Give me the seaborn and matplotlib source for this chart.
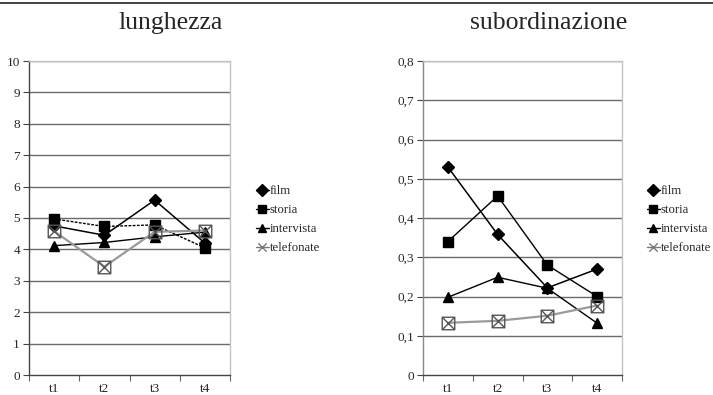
import numpy as np
import pandas as pd
import matplotlib
matplotlib.use("Agg")
import matplotlib.pyplot as plt
from matplotlib.path import Path
from matplotlib.lines import Line2D
import seaborn as sns

sns.set_theme(style="white")
plt.rcParams["font.family"] = ["Liberation Serif", "DejaVu Serif"]

times = ["t1", "t2", "t3", "t4"]
series_names = ["film", "storia", "intervista", "telefonate"]

# lunghezza
lung_film = [4.75, 4.45, 5.57, 4.2]
lung_storia = [4.97, 4.73, 4.78, 4.05]
lung_intervista = [4.12, 4.22, 4.4, 4.55]
lung_telefonate = [4.58, 3.45, 4.56, 4.6]

# subordinazione
sub_film = [0.53, 0.358, 0.222, 0.27]
sub_storia = [0.34, 0.456, 0.28, 0.2]
sub_intervista = [0.198, 0.249, 0.221, 0.132]
sub_telefonate = [0.133, 0.138, 0.151, 0.177]

lung_ticks = list(range(0, 11))
lung_ticklabels = [str(v) for v in lung_ticks]
sub_ticks = [0, 0.1, 0.2, 0.3, 0.4, 0.5, 0.6, 0.7, 0.8]
sub_ticklabels = ["0", "0,1", "0,2", "0,3", "0,4", "0,5", "0,6", "0,7", "0,8"]

# crossed-box marker used for "telefonate"
xbox = Path(
    [(-1, -1), (1, -1), (1, 1), (-1, 1), (-1, -1),
     (-1, -1), (1, 1), (-1, 1), (1, -1)],
    [Path.MOVETO, Path.LINETO, Path.LINETO, Path.LINETO, Path.CLOSEPOLY,
     Path.MOVETO, Path.LINETO, Path.MOVETO, Path.LINETO],
)
xmark = Path(
    [(-1, -1), (1, 1), (-1, 1), (1, -1)],
    [Path.MOVETO, Path.LINETO, Path.MOVETO, Path.LINETO],
)

styles = {
    "film": dict(color="black", marker="D", markersize=6, lw=1.1, ls="-",
                 mfc="black", mec="black"),
    "storia": dict(color="black", marker="s", markersize=7.5, lw=1.0, ls="-",
                   mfc="black", mec="black"),
    "intervista": dict(color="black", marker="^", markersize=7.5, lw=1.0, ls="-",
                       mfc="black", mec="black"),
    "telefonate": dict(color="#9a9a9a", marker=xbox, markersize=9, lw=1.6, ls="-",
                       mfc="none", mec="#555555"),
}

fig = plt.figure(figsize=(7.13, 3.95), dpi=100)
fig.patch.set_facecolor("white")

ax1 = fig.add_axes([29 / 713, 20 / 395, 201 / 713, 314 / 395])
ax2 = fig.add_axes([423 / 713, 20 / 395, 199 / 713, 314 / 395])


def draw(ax, data, ticks, ticklabels, ymax, storia_ls, left_color):
    df = pd.DataFrame({"t": np.arange(len(times))})
    for name, vals in zip(series_names, data):
        st = dict(styles[name])
        ls = storia_ls if name == "storia" else st["ls"]
        sns.lineplot(x=df["t"], y=vals, ax=ax, color=st["color"], lw=st["lw"],
                     linestyle=ls, marker=st["marker"], markersize=st["markersize"],
                     markerfacecolor=st["mfc"], markeredgecolor=st["mec"],
                     markeredgewidth=1.0, label=name, legend=False)
    ax.set_xlim(-0.5, len(times) - 0.5)
    ax.set_ylim(0, ymax)
    ax.set_xticks(np.arange(len(times)))
    ax.set_xticklabels(times, fontsize=9.5)
    ax.set_xticks(np.arange(len(times) + 1) - 0.5, minor=True)
    ax.tick_params(axis="x", which="major", length=0, pad=6)
    ax.tick_params(axis="x", which="minor", length=4, width=0.8, direction="out",
                   color="#666666", bottom=True)
    ax.set_yticks(ticks)
    ax.set_yticklabels(ticklabels, fontsize=9.5)
    ax.tick_params(axis="y", length=4, width=0.8, direction="out", color="#444444",
                   left=True, pad=2.5)
    for t in ticks[1:]:
        ax.axhline(t, color="#6a6a6a", lw=1.0, zorder=0)
    ax.set_xlabel("")
    ax.set_ylabel("")
    ax.spines["left"].set_color(left_color)
    ax.spines["bottom"].set_color("#444444")
    for s in ["left", "bottom"]:
        ax.spines[s].set_linewidth(1.0)
    for s in ["right", "top"]:
        ax.spines[s].set_color("#c4c4c4")
        ax.spines[s].set_linewidth(1.0)


draw(ax1, [lung_film, lung_storia, lung_intervista, lung_telefonate],
     lung_ticks, lung_ticklabels, 10, (0, (2, 1)), "#444444")
draw(ax2, [sub_film, sub_storia, sub_intervista, sub_telefonate],
     sub_ticks, sub_ticklabels, 0.8, "-", "#888888")


def legend_handles():
    hs = []
    for name in series_names:
        st = styles[name]
        mk = xmark if name == "telefonate" else st["marker"]
        hs.append(Line2D([0], [0], color=st["color"] if name != "telefonate" else "#777777",
                         lw=1.0, marker=mk, markersize=6,
                         markerfacecolor=st["mfc"] if name != "telefonate" else "none",
                         markeredgecolor=st["mec"] if name != "telefonate" else "#777777"))
    return hs


for ax, xpos in [(ax1, 256 / 713), (ax2, 647 / 713)]:
    fig.legend(legend_handles(), series_names, loc="upper left",
               bbox_to_anchor=(xpos, 1 - 185 / 395), frameon=False,
               fontsize=9.2, handlelength=1.0, handletextpad=0.05,
               labelspacing=0.55, borderaxespad=0, borderpad=0)

fig.text(171 / 713, 1 - 23 / 395, "lunghezza", ha="center", va="center", fontsize=18.5)
fig.text(549 / 713, 1 - 23 / 395, "subordinazione", ha="center", va="center", fontsize=18.5)

fig.add_artist(Line2D([0, 1], [1 - 3 / 395, 1 - 3 / 395], color="#222222", lw=1.2))

fig.savefig("out.png", dpi=100, facecolor="white")
